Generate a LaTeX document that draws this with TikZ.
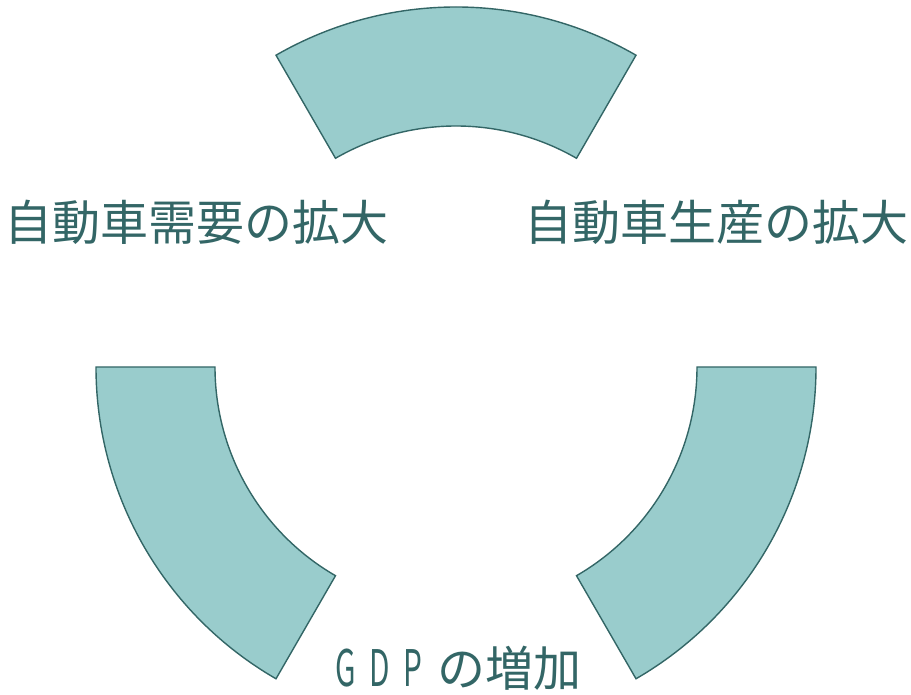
\documentclass[tikz,border=0pt]{standalone}
\usepackage{fontspec}
\usepackage{graphicx}
\setmainfont{Noto Sans CJK JP}
\usetikzlibrary{calc}
\definecolor{fillteal}{HTML}{99CCCC}
\definecolor{darkteal}{HTML}{336666}
\tikzset{
  sector/.style={fill=fillteal, draw=darkteal, line width=1.4pt, line join=miter},
  lbl/.style={text=darkteal, font=\fontsize{48}{50}\selectfont, inner sep=0pt}
}
\newcommand{\narrowlet}[1]{\makebox[34pt][l]{\scalebox{0.62}[1.05]{#1}}}
\begin{document}
\begin{tikzpicture}[x=1pt,y=1pt]
\useasboundingbox (0,0) rectangle (911,695);
\coordinate (C) at (456,328);
\def\Ro{360pt}
\def\Ri{241pt}
% top sector
\draw[sector] ($(C)+(60:360)$) arc[start angle=60,end angle=120,radius=\Ro]
  -- ($(C)+(120:241)$) arc[start angle=120,end angle=60,radius=\Ri] -- cycle;
% bottom-left sector
\draw[sector] ($(C)+(180:360)$) arc[start angle=180,end angle=240,radius=\Ro]
  -- ($(C)+(240:241)$) arc[start angle=240,end angle=180,radius=\Ri] -- cycle;
% bottom-right sector
\draw[sector] ($(C)+(300:360)$) arc[start angle=300,end angle=360,radius=\Ro]
  -- ($(C)+(0:241)$) arc[start angle=360,end angle=300,radius=\Ri] -- cycle;
\node[lbl] (demand) at (197,473) {自動車需要の拡大};
\node[lbl] (production) at (716,473) {自動車生産の拡大};
\node[lbl] (gdp) at (458,27) {\narrowlet{G}\narrowlet{D}\narrowlet{P}の増加};
\end{tikzpicture}
\end{document}
